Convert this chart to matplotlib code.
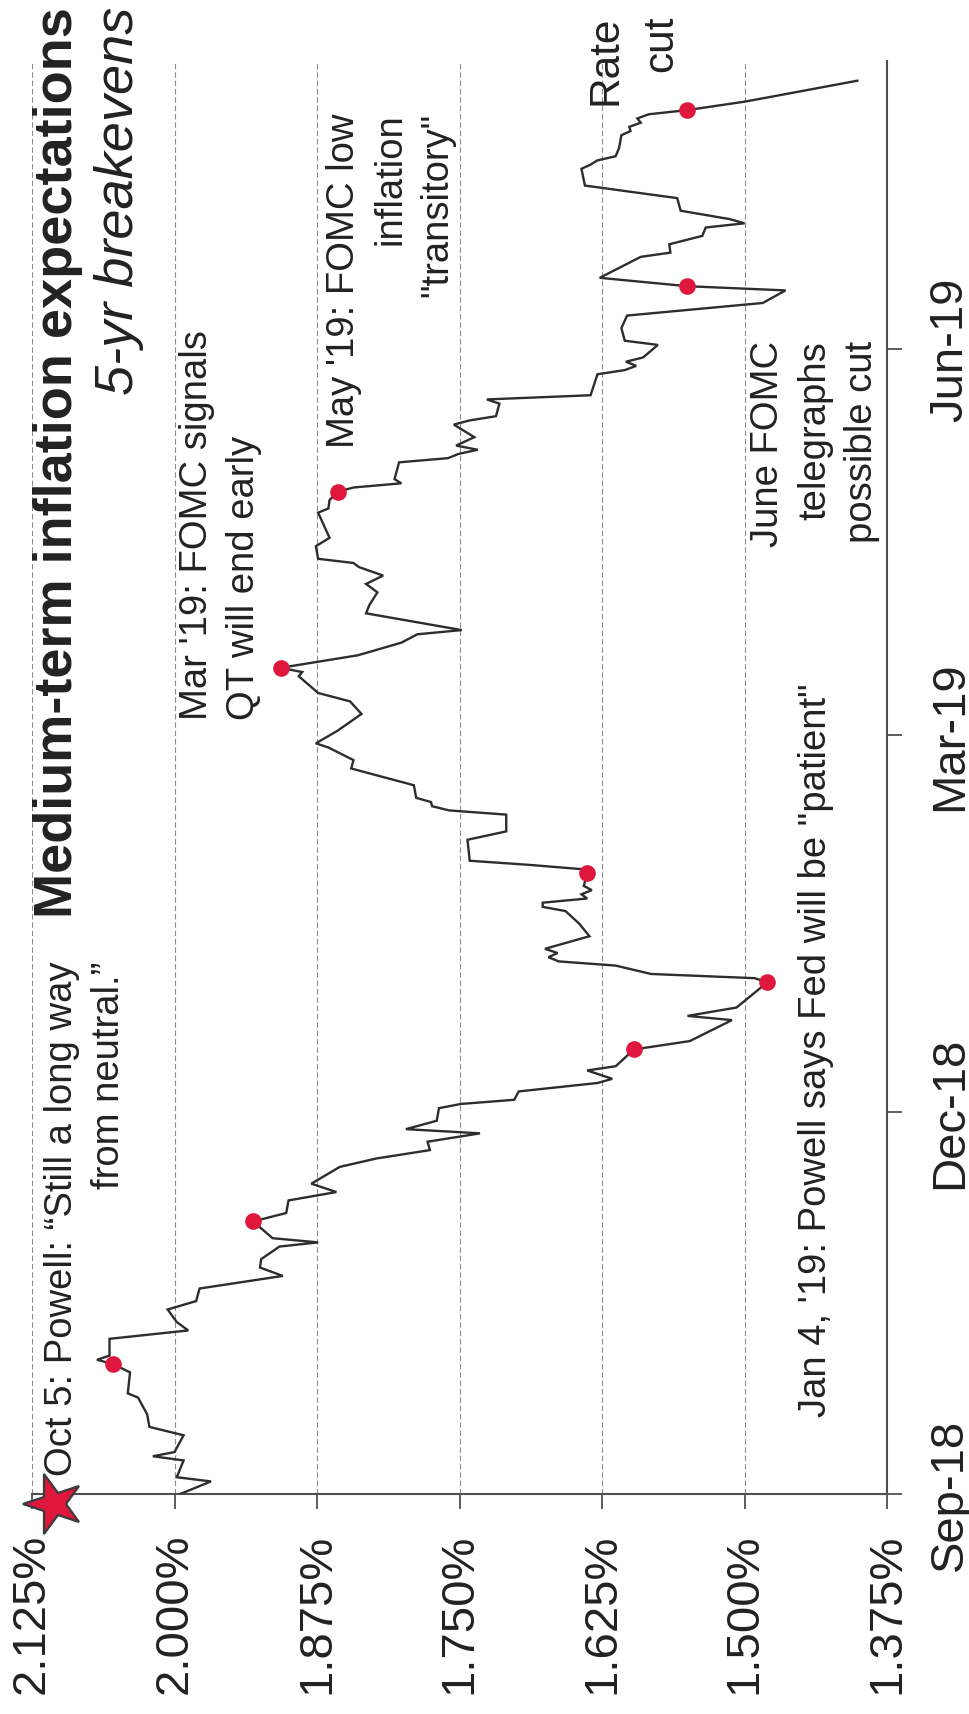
import datetime as dt

import matplotlib
matplotlib.use("Agg")
import matplotlib.pyplot as plt
import matplotlib.dates as mdates
from matplotlib.markers import MarkerStyle
from matplotlib.transforms import Affine2D

# ---------------------------------------------------------------------------
# 5-year breakeven inflation rate (%), Sep 2018 - Aug 2019
# ---------------------------------------------------------------------------
dates = [
    "2018-09-04", "2018-09-07", "2018-09-08", "2018-09-12", "2018-09-13", "2018-09-14",
    "2018-09-18", "2018-09-20", "2018-09-23", "2018-09-27", "2018-09-28",
    "2018-10-03", "2018-10-05", "2018-10-06", "2018-10-07", "2018-10-11", "2018-10-13",
    "2018-10-15", "2018-10-18", "2018-10-20", "2018-10-23", "2018-10-26", "2018-10-28",
    "2018-10-30",
    "2018-11-02", "2018-11-03", "2018-11-04", "2018-11-08", "2018-11-10", "2018-11-13",
    "2018-11-15", "2018-11-17", "2018-11-21", "2018-11-23", "2018-11-25", "2018-11-27",
    "2018-11-29", "2018-11-30",
    "2018-12-02", "2018-12-05", "2018-12-06", "2018-12-07", "2018-12-09", "2018-12-11",
    "2018-12-12", "2018-12-14", "2018-12-15", "2018-12-19", "2018-12-21", "2018-12-26",
    "2018-12-27", "2018-12-29", "2018-12-31",
    "2019-01-04", "2019-01-05", "2019-01-06", "2019-01-08", "2019-01-09", "2019-01-10",
    "2019-01-11", "2019-01-12", "2019-01-15", "2019-01-18", "2019-01-21", "2019-01-22",
    "2019-01-23", "2019-01-24", "2019-01-25", "2019-01-26", "2019-01-27", "2019-01-30",
    "2019-01-31",
    "2019-02-01", "2019-02-02", "2019-02-07", "2019-02-09", "2019-02-13", "2019-02-14",
    "2019-02-15", "2019-02-16", "2019-02-17", "2019-02-20", "2019-02-24", "2019-02-26",
    "2019-03-01", "2019-03-02", "2019-03-05", "2019-03-09", "2019-03-12", "2019-03-14",
    "2019-03-18", "2019-03-19", "2019-03-20", "2019-03-23", "2019-03-26", "2019-03-28",
    "2019-03-29",
    "2019-04-02", "2019-04-04", "2019-04-07", "2019-04-09", "2019-04-11", "2019-04-13",
    "2019-04-14", "2019-04-15", "2019-04-18", "2019-04-20", "2019-04-23", "2019-04-26",
    "2019-04-27", "2019-04-29",
    "2019-05-01", "2019-05-02", "2019-05-03", "2019-05-04", "2019-05-08", "2019-05-09",
    "2019-05-10", "2019-05-11", "2019-05-12", "2019-05-14", "2019-05-17", "2019-05-18",
    "2019-05-19", "2019-05-22", "2019-05-23", "2019-05-24", "2019-05-29", "2019-05-30",
    "2019-05-31",
    "2019-06-01", "2019-06-02", "2019-06-05", "2019-06-06", "2019-06-09", "2019-06-12",
    "2019-06-15", "2019-06-18", "2019-06-19", "2019-06-21", "2019-06-26", "2019-06-27",
    "2019-06-29",
    "2019-07-01", "2019-07-03", "2019-07-04", "2019-07-05", "2019-07-07", "2019-07-10",
    "2019-07-13", "2019-07-17", "2019-07-18", "2019-07-19", "2019-07-20", "2019-07-22",
    "2019-07-25", "2019-07-26", "2019-07-27", "2019-07-28", "2019-07-29", "2019-07-30",
    "2019-07-31",
    "2019-08-02", "2019-08-03", "2019-08-07",
]

breakevens = [
    1.995, 1.968, 1.998, 1.992, 2.019, 2.000, 1.992, 2.022, 2.024, 2.032, 2.041,
    2.039, 2.054, 2.068, 2.057, 2.057, 1.988, 1.998, 2.006, 1.981, 1.978, 1.905, 1.925,
    1.924,
    1.908, 1.874, 1.914, 1.931, 1.902, 1.900, 1.858, 1.880, 1.855, 1.823, 1.776, 1.778,
    1.732, 1.797,
    1.770, 1.768, 1.749, 1.702, 1.698, 1.629, 1.616, 1.638, 1.613, 1.597, 1.548, 1.511,
    1.550, 1.507, 1.498,
    1.480, 1.491, 1.582, 1.613, 1.663, 1.672, 1.664, 1.675, 1.636, 1.645, 1.657, 1.677,
    1.677, 1.638, 1.643, 1.634, 1.641, 1.638, 1.643,
    1.688, 1.741, 1.743, 1.709, 1.709, 1.759, 1.774, 1.775, 1.788, 1.790, 1.845, 1.843,
    1.865, 1.876, 1.857, 1.836, 1.846, 1.874, 1.891, 1.888, 1.907, 1.839, 1.801, 1.787,
    1.748,
    1.832, 1.829, 1.822, 1.832, 1.817, 1.838, 1.843, 1.874, 1.876, 1.864, 1.869, 1.874,
    1.865, 1.864,
    1.857, 1.843, 1.801, 1.807, 1.803, 1.760, 1.751, 1.734, 1.753, 1.737, 1.755, 1.741,
    1.718, 1.715, 1.726, 1.635, 1.629, 1.605, 1.595,
    1.604, 1.589, 1.576, 1.605, 1.608, 1.603, 1.484, 1.464, 1.550, 1.627, 1.591, 1.565,
    1.566,
    1.537, 1.534, 1.500, 1.513, 1.556, 1.559, 1.640, 1.643, 1.635, 1.629, 1.613, 1.610,
    1.608, 1.600, 1.601, 1.591, 1.594, 1.584, 1.550,
    1.500, 1.480, 1.401,
]

# Fed communication events highlighted on the series
event_dates = [
    "2018-10-05", "2018-11-08", "2018-12-19", "2019-01-04", "2019-01-30",
    "2019-03-20", "2019-05-01", "2019-06-19", "2019-07-31",
]

value_ticks = [2.125, 2.000, 1.875, 1.750, 1.625, 1.500, 1.375]
date_ticks = ["2018-09-04", "2018-12-04", "2019-03-04", "2019-06-04"]
date_tick_labels = ["Sep-18", "Dec-18", "Mar-19", "Jun-19"]

assert len(dates) == len(breakevens)

# ---------------------------------------------------------------------------
W, H, DPI = 970, 1715, 100
plt.rcParams["font.family"] = ["Liberation Sans", "DejaVu Sans"]

INK = "#222222"
LINE = "#2d2d2d"
AXIS = "#505050"
RED = "#e0173d"


def to_num(s):
    return mdates.date2num(dt.date.fromisoformat(s))


def fig_xy(x, y):
    """Figure fraction from pixel position measured from the top-left corner."""
    return x / W, 1 - y / H


t = [to_num(s) for s in dates]
series = dict(zip(dates, breakevens))
ev_t = [to_num(s) for s in event_dates]
ev_v = [series[s] for s in event_dates]

fig = plt.figure(figsize=(W / DPI, H / DPI), dpi=DPI, facecolor="white")
ax = fig.add_axes([32 / W, 1 - 1495 / H, 855 / W, 1433 / H])

# The chart is laid out in portrait: values run across, time runs upward.
ax.plot(breakevens, t, color=LINE, lw=1.7, solid_joinstyle="miter", zorder=3)
ax.plot(ev_v, ev_t, ls="none", marker="o", ms=12, mfc=RED, mec="none", zorder=4)

t0 = to_num(date_ticks[0])
ax.set_xlim(value_ticks[0], value_ticks[-1])
ax.set_ylim(t0, t0 + 341.7)

for side in ("left", "top"):
    ax.spines[side].set_visible(False)
for side in ("bottom", "right"):
    ax.spines[side].set_color(AXIS)
    ax.spines[side].set_linewidth(1.5)

ax.set_xticks(value_ticks, labels=[f"{v:.3f}%" for v in value_ticks],
              rotation=90, ha="center", va="top", fontsize=34, color=INK)
ax.yaxis.tick_right()
ax.set_yticks([to_num(s) for s in date_ticks], labels=date_tick_labels,
              rotation=90, ha="left", va="center", fontsize=34, color=INK)
ax.tick_params(axis="x", direction="out", length=11, width=1.3, color=AXIS, pad=17)
ax.tick_params(axis="y", direction="out", length=11, width=1.3, color=AXIS, pad=18.5)

ax.xaxis.grid(True, linestyle=(0, (5, 2.5)), color="#8c8c8c", lw=0.8, zorder=1)
ax.yaxis.grid(False)
ax.set_axisbelow(True)

# corner star
star = MarkerStyle("*", transform=Affine2D().rotate_deg(90))
ax.plot([0.0263], [-0.007], transform=ax.transAxes, marker=star, ms=45,
        mfc=RED, mec="#3a3a3a", mew=1.6, ls="none", clip_on=False, zorder=6)

# titles
txt = dict(rotation=90, rotation_mode="anchor", va="baseline", color=INK)
fig.text(*fig_xy(72, 7), "Medium-term inflation expectations", ha="right",
         fontsize=39, fontweight="bold", **txt)
fig.text(*fig_xy(133, 7), "5-yr breakevens", ha="right",
         fontsize=39, fontstyle="italic", **txt)

# event annotations
note = dict(fontsize=27.5, linespacing=1.38, **txt)
fig.text(*fig_xy(108, 962), "Oct 5: Powell: \u201cStill a long way\nfrom neutral.\u201d",
         ha="right", multialignment="right", **note)
fig.text(*fig_xy(243, 720), "Mar '19: FOMC signals\nQT will end early",
         ha="left", multialignment="left", **note)
fig.text(*fig_xy(437, 113), "May '19: FOMC low\ninflation\n\"transitory\"",
         ha="right", multialignment="right", **note)
fig.text(*fig_xy(826, 1417), "Jan 4, '19: Powell says Fed will be \"patient\"",
         ha="left", **note)
fig.text(*fig_xy(861, 341), "June FOMC\ntelegraphs\npossible cut",
         ha="right", multialignment="right", **note)
fig.text(*fig_xy(657, 16), "Rate\ncut", ha="right", multialignment="right",
         fontsize=30.5, linespacing=1.49, **txt)

fig.savefig("out.png", dpi=DPI, facecolor="white")
